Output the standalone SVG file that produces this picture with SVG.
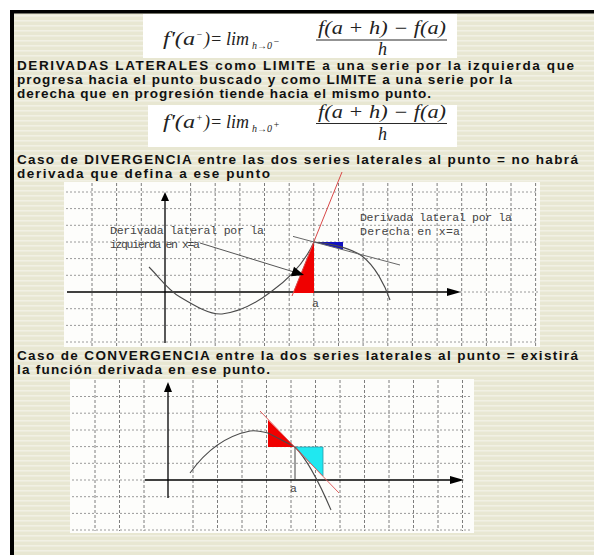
<svg xmlns="http://www.w3.org/2000/svg" width="594" height="555" viewBox="0 0 594 555">
<defs>
<pattern id="bg" width="8" height="5" patternUnits="userSpaceOnUse"><rect width="8" height="5" fill="#E8E7D2"/><rect width="8" height="1.6" fill="#F1F0E4"/></pattern>
</defs>
<style>
.p{font-family:"Liberation Sans",Arial,sans-serif;font-weight:bold;font-size:13.5px;fill:#111}
.m{font-family:"Liberation Serif","Times New Roman",serif;font-style:italic;font-size:18px;fill:#222}
.ms{font-family:"Liberation Serif","Times New Roman",serif;font-style:italic;font-size:10px;fill:#222}
.gv{stroke:#7d7d7d;stroke-width:1;stroke-dasharray:3 2}
.gh{stroke:#9a9a9a;stroke-width:1;stroke-dasharray:2 2}
.lbl{font-family:"Liberation Mono","Courier New",monospace;font-size:11.5px;fill:#444}
.ax{stroke:#000;stroke-width:1.3;fill:none}
.crv{fill:none;stroke:#4a4a4a;stroke-width:1.1}
</style>
<rect width="594" height="555" fill="#fff"/>
<rect x="14" y="13" width="580" height="542" fill="url(#bg)"/>
<rect x="10" y="10" width="584" height="3.5" fill="#000"/>
<rect x="10" y="10" width="4" height="545" fill="#000"/>

<g id="formula1">
<rect x="143" y="14" width="314" height="44" fill="#fff"/>
<text class="m" x="163" y="45" textLength="32" lengthAdjust="spacingAndGlyphs">f'(a</text>
<text class="ms" x="196" y="38">−</text>
<text class="m" x="204" y="45">)=</text>
<text class="m" x="226" y="45">lim</text>
<text class="ms" x="252" y="49">h→0</text>
<text class="ms" x="273" y="45" font-size="7">−</text>
<text class="m" x="318" y="34" textLength="128" lengthAdjust="spacingAndGlyphs">f(a + h) − f(a)</text>
<line x1="316" y1="40" x2="447" y2="40" stroke="#111" stroke-width="0.9"/>
<text class="m" x="378" y="55" font-size="15">h</text>
</g>

<g id="para1">
<text class="p" x="17" y="70" textLength="557" lengthAdjust="spacing">DERIVADAS LATERALES como LIMITE a una serie por la izquierda que</text>
<text class="p" x="17" y="84" textLength="495" lengthAdjust="spacing">progresa hacia el punto buscado y como LIMITE a una serie por la</text>
<text class="p" x="17" y="98" textLength="414" lengthAdjust="spacing">derecha que en progresión tiende hacia el mismo punto.</text>
</g>

<g id="formula2">
<rect x="148" y="105" width="309" height="42" fill="#fff"/>
<text class="m" x="163" y="128" textLength="32" lengthAdjust="spacingAndGlyphs">f'(a</text>
<text class="ms" x="196" y="121">+</text>
<text class="m" x="204" y="128">)=</text>
<text class="m" x="226" y="128">lim</text>
<text class="ms" x="252" y="132">h→0</text>
<text class="ms" x="273" y="128" font-size="7">+</text>
<text class="m" x="318" y="118" textLength="128" lengthAdjust="spacingAndGlyphs">f(a + h) − f(a)</text>
<line x1="316" y1="123.5" x2="447" y2="123.5" stroke="#111" stroke-width="0.9"/>
<text class="m" x="378" y="140" font-size="15">h</text>
</g>

<g id="para2">
<text class="p" x="17" y="164" textLength="561" lengthAdjust="spacing">Caso de DIVERGENCIA entre las dos series laterales al punto = no habrá</text>
<text class="p" x="17" y="178" textLength="253" lengthAdjust="spacing">derivada que defina a ese punto</text>
</g>

<g id="graph1">
<rect x="64" y="182" width="476" height="165" fill="#fdfdfb"/>
<g class="gv">
<line x1="92" y1="183" x2="92" y2="346"/><line x1="116.6" y1="183" x2="116.6" y2="346"/><line x1="141.3" y1="183" x2="141.3" y2="346"/>
<line x1="190.6" y1="183" x2="190.6" y2="346"/><line x1="215.2" y1="183" x2="215.2" y2="346"/><line x1="239.9" y1="183" x2="239.9" y2="346"/>
<line x1="264.5" y1="183" x2="264.5" y2="346"/><line x1="289.2" y1="183" x2="289.2" y2="346"/><line x1="313.8" y1="183" x2="313.8" y2="346"/>
<line x1="338.5" y1="183" x2="338.5" y2="346"/><line x1="363.1" y1="183" x2="363.1" y2="346"/><line x1="387.8" y1="183" x2="387.8" y2="346"/>
<line x1="412.4" y1="183" x2="412.4" y2="346"/><line x1="437.1" y1="183" x2="437.1" y2="346"/><line x1="461.7" y1="183" x2="461.7" y2="346"/>
<line x1="486.4" y1="183" x2="486.4" y2="346"/><line x1="511" y1="183" x2="511" y2="346"/><line x1="535.6" y1="183" x2="535.6" y2="346"/>
</g>
<g class="gh">
<line x1="66" y1="192" x2="538" y2="192"/><line x1="66" y1="208.6" x2="538" y2="208.6"/><line x1="66" y1="225.3" x2="538" y2="225.3"/>
<line x1="66" y1="242" x2="538" y2="242"/><line x1="66" y1="258.6" x2="538" y2="258.6"/><line x1="66" y1="275.3" x2="538" y2="275.3"/>
<line x1="448" y1="292" x2="538" y2="292"/><line x1="66" y1="308.7" x2="538" y2="308.7"/><line x1="66" y1="325.4" x2="538" y2="325.4"/>
<line x1="66" y1="342" x2="538" y2="342"/>
</g>
<line class="ax" x1="67" y1="292" x2="449" y2="292"/>
<polygon points="461,292 447,288 447,296" fill="#000"/>
<line class="ax" x1="165" y1="343" x2="165" y2="200"/>
<polygon points="165,192 161,201 169,201" fill="#000"/>
<polygon points="293,293 314,293 314,242" fill="#f00000"/>
<polygon points="314,242 343,242 343,249.7" fill="#1010c0"/>
<path class="crv" d="M149,267 C160,278 168,290 180,297 C195,306 210,315 222,314 C240,312 258,302 272,291 C290,278 305,262 314,242"/>
<path class="crv" d="M314,242 C330,243 350,248 362,256 C375,266 385,285 390,300"/>
<line x1="292" y1="296" x2="342" y2="172" stroke="#d84848" stroke-width="1"/>
<line x1="293" y1="236.4" x2="400" y2="265" stroke="#666" stroke-width="1"/>
<line x1="200" y1="243" x2="294" y2="272" stroke="#555" stroke-width="1"/>
<polygon points="304,275 291,276.3 294,266.7" fill="#000"/>
<text class="lbl" x="110" y="234" textLength="154" lengthAdjust="spacing">Derivada lateral por la</text>
<text class="lbl" x="110" y="248" textLength="90" lengthAdjust="spacing">izquierda en x=a</text>
<text class="lbl" x="360" y="221" textLength="152" lengthAdjust="spacing">Derivada lateral por la</text>
<text class="lbl" x="360" y="235" textLength="100" lengthAdjust="spacing">Derecha en x=a</text>
<text class="lbl" x="312" y="307" font-size="9">a</text>
</g>

<g id="para3">
<text class="p" x="17" y="360" textLength="561" lengthAdjust="spacing">Caso de CONVERGENCIA entre la dos series laterales al punto =  existirá</text>
<text class="p" x="17" y="374" textLength="253" lengthAdjust="spacing">la función derivada en ese punto.</text>
</g>

<g id="graph2">
<rect x="70" y="379" width="404" height="154" fill="#fdfdfb"/>
<g class="gv">
<line x1="95" y1="380" x2="95" y2="531"/><line x1="119.5" y1="380" x2="119.5" y2="531"/><line x1="144" y1="380" x2="144" y2="531"/>
<line x1="193" y1="380" x2="193" y2="531"/><line x1="217.5" y1="380" x2="217.5" y2="531"/><line x1="242" y1="380" x2="242" y2="531"/>
<line x1="266.5" y1="380" x2="266.5" y2="531"/><line x1="291" y1="380" x2="291" y2="531"/><line x1="315.5" y1="380" x2="315.5" y2="531"/>
<line x1="340" y1="380" x2="340" y2="531"/><line x1="364.5" y1="380" x2="364.5" y2="531"/><line x1="389" y1="380" x2="389" y2="531"/>
<line x1="413.5" y1="380" x2="413.5" y2="531"/><line x1="438" y1="380" x2="438" y2="531"/><line x1="462.5" y1="380" x2="462.5" y2="531"/>
</g>
<g class="gh">
<line x1="72" y1="396.5" x2="472" y2="396.5"/><line x1="72" y1="413.2" x2="472" y2="413.2"/><line x1="72" y1="430" x2="472" y2="430"/>
<line x1="72" y1="446.6" x2="472" y2="446.6"/><line x1="72" y1="463.3" x2="472" y2="463.3"/><line x1="72" y1="480" x2="145" y2="480"/>
<line x1="72" y1="496.7" x2="472" y2="496.7"/><line x1="72" y1="513.4" x2="472" y2="513.4"/><line x1="72" y1="530" x2="472" y2="530"/>
</g>
<line class="ax" x1="145" y1="480" x2="451" y2="480"/>
<polygon points="464,480 450,476 450,484" fill="#000"/>
<line class="ax" x1="168" y1="498" x2="168" y2="391"/>
<polygon points="168,382 164,392 172,392" fill="#000"/>
<polygon points="268,420 268,447 295,447" fill="#f00000"/>
<polygon points="295,447 323,447 323,476" fill="#20e8f0" stroke="#2a9aa8" stroke-width="0.8"/>
<path class="crv" d="M190,473 C205,452 225,436 250,431 C258,430 263,432 268,433 L295,447 C306,458 316,475 331,510"/>
<line x1="260" y1="411" x2="339" y2="493" stroke="#e06060" stroke-width="1"/>
<line x1="295" y1="447" x2="295" y2="480" stroke="#444" stroke-width="1"/>
<text class="lbl" x="290" y="492" font-size="9">a</text>
</g>
</svg>
